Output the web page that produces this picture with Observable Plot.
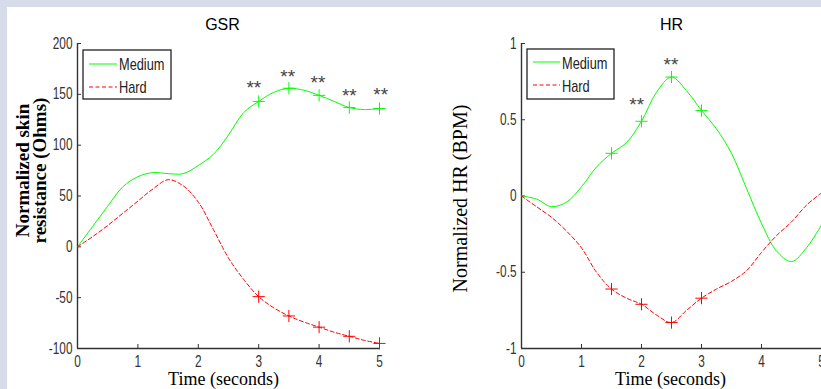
<!DOCTYPE html>
<html>
<head>
<meta charset="utf-8">
<script src="https://cdn.jsdelivr.net/npm/d3@7"></script>
<script src="https://cdn.jsdelivr.net/npm/@observablehq/plot@0.6"></script>
<style>
  html, body { margin: 0; padding: 0; width: 821px; height: 389px; overflow: hidden; background: #d6dcea; }
  #panel { position: absolute; left: 7px; top: 7px; width: 900px; height: 400px; background: #ffffff; }
  .chart { position: absolute; top: 0; width: 440px; }
  .legend { position: absolute; overflow: visible; }
</style>
</head>
<body>
<div id="panel"></div>
<div id="left" class="chart" style="left:0px"></div>
<div id="right" class="chart" style="left:410px"></div>
<script>
// ---------- data ----------
const tGrid = [0, 0.25, 0.5, 0.75, 1, 1.25, 1.5, 1.75, 2, 2.25, 2.5, 2.75, 3, 3.25, 3.5, 3.75, 4, 4.25, 4.5, 4.75, 5];

const gsrMedium = [0, 20, 40, 59, 69, 73, 72, 72, 80, 91, 110, 132, 143, 152, 156, 154, 149, 143, 137, 135, 136];
const gsrHard   = [0, 10, 21, 33, 45, 57, 66, 60, 44, 17, -11, -32, -49, -60, -68, -74, -79, -84, -88, -92, -95];

const hrMedium = [0, -0.02, -0.07, -0.04, 0.06, 0.19, 0.28, 0.35, 0.49, 0.68, 0.78, 0.69, 0.56, 0.44, 0.28, 0.05, -0.18, -0.36, -0.43, -0.34, -0.19];
const hrHard   = [0, -0.07, -0.14, -0.23, -0.34, -0.50, -0.61, -0.67, -0.71, -0.78, -0.83, -0.75, -0.67, -0.61, -0.56, -0.49, -0.37, -0.26, -0.17, -0.06, 0.02];

const gsrMarkT = [3, 3.5, 4, 4.5, 5];
const hrMarkT  = [1.5, 2, 2.5, 3];

const gsrStarT = [2.92, 3.48, 3.98, 4.5, 5.02];
const gsrStarV = [161, 172, 166, 153, 154];
const hrStarT  = [1.92, 2.49];
const hrStarV  = [0.63, 0.89];

const xTicks = [0, 1, 2, 3, 4, 5];
const xTickLabels = ["0", "1", "2", "3", "4", "5"];
const gsrYTicks = [-100, -50, 0, 50, 100, 150, 200];
const gsrYTickLabels = ["-100", "-50", "0", "50", "100", "150", "200"];
const hrYTicks = [-1, -0.5, 0, 0.5, 1];
const hrYTickLabels = ["-1", "-0.5", "0", "0.5", "1"];

const seriesNames = ["Medium", "Hard"];
const seriesColors = ["#00ff00", "#ff0000"];

// ---------- helpers ----------
const toRows = (vals) => tGrid.map((t, i) => ({t, v: vals[i]}));
const marks = (vals, ts) => toRows(vals).filter(d => ts.includes(d.t));
const stars = (ts, vs) => ts.map((t, i) => ({t, v: vs[i]}));

const SANS = "'Liberation Sans', Arial, Helvetica, sans-serif";
const SERIF = "'Liberation Serif', 'Times New Roman', serif";

function squeeze(root, sel, sx) {
  root.querySelectorAll(sel).forEach(t => {
    const tr = t.getAttribute("transform");
    if (tr) t.setAttribute("transform", tr + ` scale(${sx},1)`);
    else {
      const ax = parseFloat(t.getAttribute("x")) || 0;
      t.setAttribute("transform", `translate(${ax},0) scale(${sx},1) translate(${-ax},0)`);
    }
  });
}

function chart({width, marginLeft, marginRight, yDomain, yTicks, yTickLabels, med, hard, markT, starRows, title, titleDx, ylabels, xlabelDx}) {
  const medRows = toRows(med), hardRows = toRows(hard);
  const svg = Plot.plot({
    width, height: 389,
    marginLeft, marginRight, marginTop: 43, marginBottom: 41,
    style: {background: "transparent", fontFamily: SANS, fontSize: "16px", color: "#333", overflow: "visible", maxWidth: "none"},
    x: {domain: [0, 5]},
    y: {domain: yDomain},
    marks: [
      Plot.axisX({ticks: xTicks, tickSize: -4, tickPadding: 11, tickFormat: d => xTickLabels[xTicks.indexOf(d)], label: null, stroke: "#333", fill: "#333"}),
      Plot.axisY({ticks: yTicks, tickSize: -4, tickPadding: 9, tickFormat: d => yTickLabels[yTicks.indexOf(d)], label: null, stroke: "#333", fill: "#333"}),
      Plot.ruleX([0], {stroke: "#333", strokeWidth: 1.4}),
      Plot.ruleY([yDomain[0]], {stroke: "#333", strokeWidth: 1.4}),
      Plot.line(medRows, {x: "t", y: "v", stroke: seriesColors[0], strokeWidth: 1, curve: "catmull-rom"}),
      Plot.line(hardRows, {x: "t", y: "v", stroke: seriesColors[1], strokeWidth: 1, strokeDasharray: "4,2.5", curve: "catmull-rom"}),
      Plot.dot(marks(med, markT), {x: "t", y: "v", symbol: "plus", r: 4, stroke: seriesColors[0], fill: "none", strokeWidth: 1}),
      Plot.dot(marks(hard, markT), {x: "t", y: "v", symbol: "plus", r: 4, stroke: seriesColors[1], fill: "none", strokeWidth: 1}),
      Plot.text(starRows, {x: "t", y: "v", text: () => "**", fill: "#444", fontSize: 19, dy: 5, ariaLabel: "stars"}),
      Plot.text([title], {frameAnchor: "top", textAnchor: "middle", text: d => d, dx: titleDx, dy: -13.5, lineAnchor: "bottom", fontSize: 16, fill: "#000", ariaLabel: "title"}),
      Plot.text(["Time (seconds)"], {frameAnchor: "bottom", textAnchor: "middle", text: d => d, dx: xlabelDx, dy: 36, lineAnchor: "bottom", fontFamily: SERIF, fontSize: 18, fill: "#000", ariaLabel: "xlabel"}),
      ...ylabels.map(l => Plot.text([l.text], {frameAnchor: "left", textAnchor: "middle", text: d => d, rotate: -90, dx: l.dx, dy: l.dy, lineAnchor: "bottom", fontFamily: SERIF, fontSize: l.size, fontWeight: l.weight, fill: "#000", ariaLabel: "ylabel"}))
    ]
  });
  squeeze(svg, 'g[aria-label$="tick label"] text', 0.74);
  squeeze(svg, 'g[aria-label="title"] text', 0.74);
  squeeze(svg, 'g[aria-label="xlabel"] text', 0.9);
  svg.querySelectorAll('g[aria-label="ylabel"] text').forEach(t => t.style.letterSpacing = "0.4px");
  return svg;
}

function legend(parent, x, y, w, h, lineX0, lineX1, rowY, textX, textBase) {
  const ns = "http://www.w3.org/2000/svg";
  const s = document.createElementNS(ns, "svg");
  s.setAttribute("class", "legend");
  s.setAttribute("width", 821); s.setAttribute("height", 389);
  s.style.left = "0px"; s.style.top = "0px";
  const rect = document.createElementNS(ns, "rect");
  rect.setAttribute("x", x); rect.setAttribute("y", y); rect.setAttribute("width", w); rect.setAttribute("height", h);
  rect.setAttribute("fill", "#fff"); rect.setAttribute("stroke", "#222"); rect.setAttribute("stroke-width", 1.3);
  s.appendChild(rect);
  seriesNames.forEach((name, i) => {
    const ln = document.createElementNS(ns, "line");
    ln.setAttribute("x1", lineX0); ln.setAttribute("x2", lineX1);
    ln.setAttribute("y1", rowY[i]); ln.setAttribute("y2", rowY[i]);
    ln.setAttribute("stroke", seriesColors[i]); ln.setAttribute("stroke-width", 1);
    if (i === 1) ln.setAttribute("stroke-dasharray", "4,2.5");
    s.appendChild(ln);
    const tx = document.createElementNS(ns, "text");
    tx.setAttribute("x", 0); tx.setAttribute("y", 0);
    tx.setAttribute("transform", `translate(${textX},${textBase[i]}) scale(0.8,1)`);
    tx.setAttribute("font-family", SANS); tx.setAttribute("font-size", 16); tx.setAttribute("fill", "#222");
    tx.textContent = name;
    s.appendChild(tx);
  });
  parent.appendChild(s);
}

document.getElementById("left").appendChild(chart({
  width: 410, marginLeft: 77, marginRight: 31,
  yDomain: [-100, 200], yTicks: gsrYTicks, yTickLabels: gsrYTickLabels,
  med: gsrMedium, hard: gsrHard, markT: gsrMarkT, starRows: stars(gsrStarT, gsrStarV),
  title: "GSR", titleDx: -6, xlabelDx: -5,
  ylabels: [
    {text: "Normalized skin", dx: -49, dy: -25.5, size: 19, weight: "bold"},
    {text: "resistance (Ohms)", dx: -32, dy: -25.5, size: 19, weight: "bold"}
  ]
}));

document.getElementById("right").appendChild(chart({
  width: 430, marginLeft: 111, marginRight: 19,
  yDomain: [-1, 1], yTicks: hrYTicks, yTickLabels: hrYTickLabels,
  med: hrMedium, hard: hrHard, markT: hrMarkT, starRows: stars(hrStarT, hrStarV),
  title: "HR", titleDx: 0, xlabelDx: -1,
  ylabels: [
    {text: "Normalized HR (BPM)", dx: -55, dy: 2.5, size: 20, weight: "normal"}
  ]
}));

legend(document.body, 83, 50, 88, 49, 89, 117, [64, 87], 119, [70, 93]);
legend(document.body, 527, 49, 87, 50, 533, 560, [62, 85], 562, [69, 92]);
</script>
</body>
</html>
